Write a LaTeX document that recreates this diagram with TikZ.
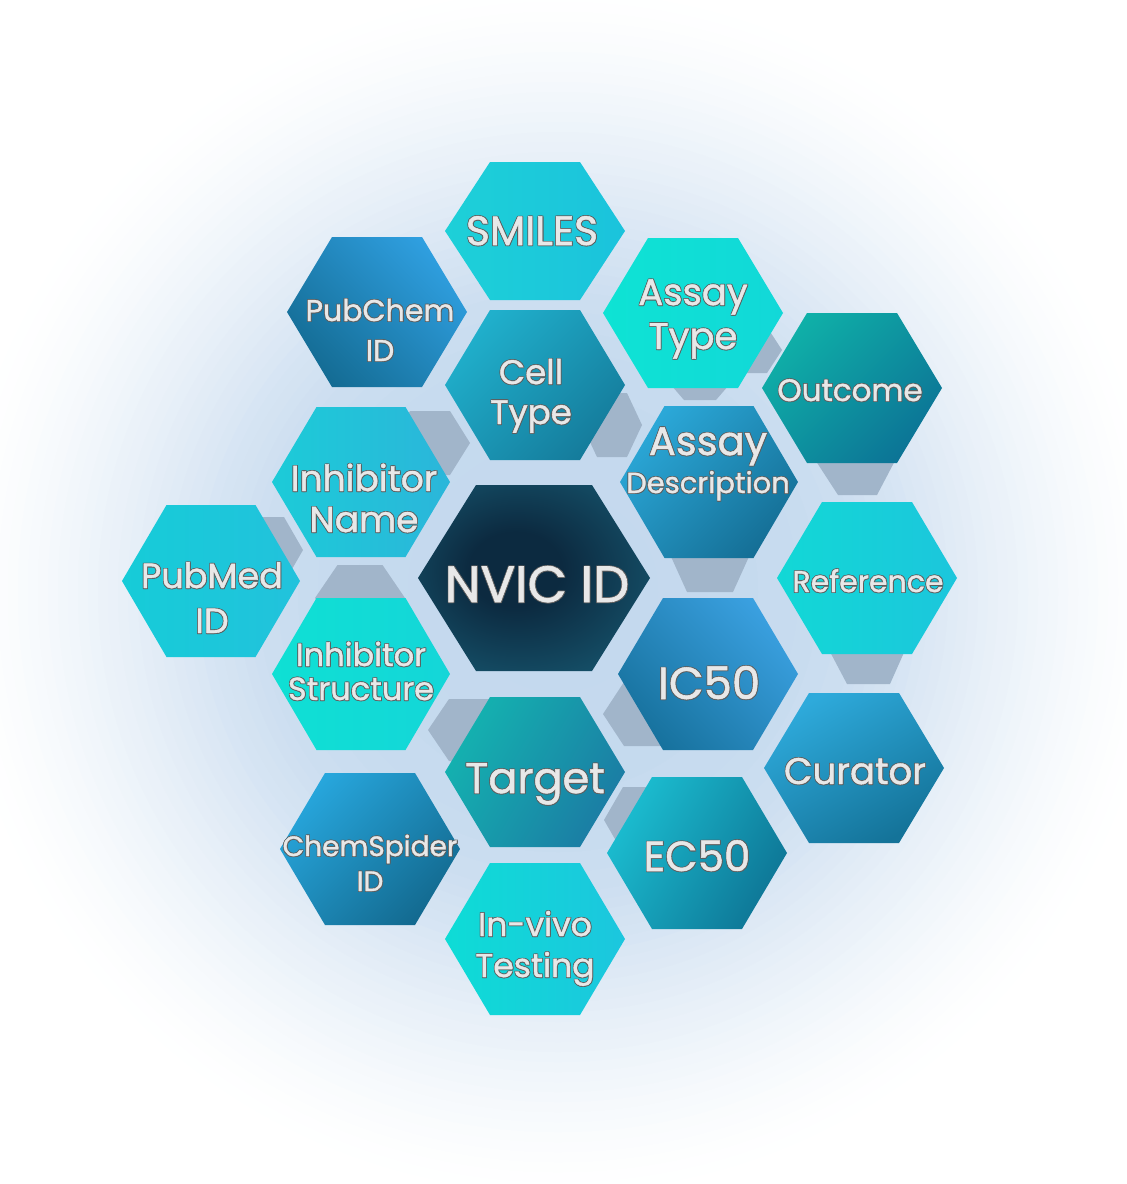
\documentclass[tikz,border=0pt]{standalone}
\usepackage{fontspec}
\setmainfont{Poppins}[FakeBold=1.2]
\definecolor{glowbase}{HTML}{B0CCE8}
\definecolor{shadowgray}{HTML}{A1B5CA}
\definecolor{lbl}{HTML}{E8E8E8}
\definecolor{lblout}{HTML}{5E5E5E}
\definecolor{nvicin}{HTML}{0C2A40}
\definecolor{nvicout}{HTML}{1B6A84}
\definecolor{smilesa}{HTML}{1DD0D8}
\definecolor{smilesb}{HTML}{1BC3DC}
\pgfdeclareradialshading{nvicsh}{\pgfpoint{-5bp}{3bp}}{color(0bp)=(nvicin); color(10bp)=(nvicin); color(45bp)=(nvicout); color(50bp)=(nvicout)}
\newcommand\hexpath[5]{\path[#5] ({#1-#3},{#2}) -- ({#1-#3/2},{#2-#4}) -- ({#1+#3/2},{#2-#4}) -- ({#1+#3},{#2}) -- ({#1+#3/2},{#2+#4}) -- ({#1-#3/2},{#2+#4}) -- cycle;}
\newcommand\otext[1]{{\leavevmode\rlap{\color{lblout}\hspace*{0.8pt}\raisebox{-0.8pt}{#1}}\rlap{\color{lblout}\hspace*{-0.6pt}\raisebox{0.6pt}{#1}}\rlap{\color{lblout}\hspace*{0.8pt}\raisebox{0.6pt}{#1}}\rlap{\color{lblout}\hspace*{-0.6pt}\raisebox{-0.8pt}{#1}}\color{lbl}#1}}
\newcommand\twol[2]{\begin{tabular}[t]{@{}c@{}}\otext{#1}\\\otext{#2}\end{tabular}}
\newcommand\fs[2]{\fontsize{#1}{#2}\selectfont}
\tikzset{
  lbl/.style={inner sep=0pt, anchor=base},
  shad/.style={fill=shadowgray}
}
\begin{document}
\begin{tikzpicture}[x=1pt,y=-1pt]
\useasboundingbox (0,0) rectangle (1127,1184);
\fill[white] (0,0) rectangle (1127,1184);
\foreach \r/\p in {600/0.5,590/1.5,580/2.5,570/3.8,560/5,550/6.7,540/8.5,530/10.3,520/12,510/14,500/16,490/18,480/20,470/22.4,460/24.8,450/27.2,440/29.6,430/32,420/34.6,410/37.2,400/39.8,390/42.4,380/45,370/47.5,360/50,350/52.5,340/55,330/57.5,320/60,310/62.5,300/65,280/67,260/69,240/71,200/73,150/74,100/75}
  {\fill[glowbase!\p!white] (558,592) circle[radius={\r pt}];}
% shadow shapes
\hexpath{430}{443}{40}{32}{shad}
\hexpath{265}{550}{38}{33}{shad}
\hexpath{360}{598}{45}{33}{shad}
\hexpath{612}{425}{30}{32}{shad}
\hexpath{752}{350}{30}{23}{shad}
\path[shad] (665,378) -- (735,378) -- (716,400) -- (684,400) -- cycle;
\path[shad] (668,550) -- (752,550) -- (733,592) -- (687,592) -- cycle;
\path[shad] (812,455) -- (898,455) -- (877,495) -- (838,495) -- cycle;
\path[shad] (828,648) -- (906,648) -- (890,684) -- (847,684) -- cycle;
\hexpath{645}{714}{42}{32}{shad}
\hexpath{470}{730}{42}{31}{shad}
\hexpath{642}{820}{38}{33}{shad}
% hexagons
\hexpath{535}{231}{90}{69}{top color=smilesa, bottom color=smilesb, shading angle=90}
\hexpath{377}{312}{90}{75}{top color={rgb,255:red,47;green,159;blue,224}, bottom color={rgb,255:red,20;green,108;blue,148}, shading angle=-45}
\hexpath{693}{313}{90}{75}{top color={rgb,255:red,14;green,227;blue,212}, bottom color={rgb,255:red,18;green,216;blue,216}, shading angle=90}
\hexpath{535}{385}{90}{75}{top color={rgb,255:red,32;green,176;blue,204}, bottom color={rgb,255:red,21;green,124;blue,156}, shading angle=45}
\hexpath{852}{388}{90}{75}{top color={rgb,255:red,15;green,176;blue,168}, bottom color={rgb,255:red,12;green,116;blue,150}, shading angle=45}
\hexpath{709}{482}{89}{76}{top color={rgb,255:red,43;green,168;blue,216}, bottom color={rgb,255:red,21;green,111;blue,150}, shading angle=45}
\hexpath{361}{482}{89}{75}{top color={rgb,255:red,28;green,203;blue,216}, bottom color={rgb,255:red,43;green,182;blue,218}, shading angle=90}
\hexpath{211}{581}{89}{76}{top color={rgb,255:red,22;green,204;blue,216}, bottom color={rgb,255:red,34;green,194;blue,220}, shading angle=90}
\hexpath{534}{578}{116}{93}{shading=nvicsh}
\hexpath{867}{578}{90}{76}{top color={rgb,255:red,18;green,216;blue,214}, bottom color={rgb,255:red,28;green,198;blue,220}, shading angle=90}
\hexpath{361}{674}{89}{76}{top color={rgb,255:red,15;green,224;blue,212}, bottom color={rgb,255:red,20;green,214;blue,216}, shading angle=90}
\hexpath{708}{674}{90}{76}{top color={rgb,255:red,58;green,160;blue,224}, bottom color={rgb,255:red,23;green,114;blue,158}, shading angle=-45}
\hexpath{854}{768}{90}{75}{top color={rgb,255:red,46;green,170;blue,219}, bottom color={rgb,255:red,20;green,115;blue,153}, shading angle=30}
\hexpath{535}{772}{90}{75}{top color={rgb,255:red,20;green,178;blue,176}, bottom color={rgb,255:red,27;green,124;blue,164}, shading angle=60}
\hexpath{697}{853}{90}{76}{top color={rgb,255:red,27;green,189;blue,208}, bottom color={rgb,255:red,14;green,118;blue,150}, shading angle=60}
\hexpath{370}{849}{90}{76}{top color={rgb,255:red,39;green,166;blue,220}, bottom color={rgb,255:red,19;green,106;blue,144}, shading angle=45}
\hexpath{535}{939}{90}{76}{top color={rgb,255:red,14;green,220;blue,214}, bottom color={rgb,255:red,28;green,198;blue,222}, shading angle=90}
% labels
\node[lbl, font=\fs{41}{44}] (smiles) at (532,245) {\otext{SMILES}};
\node[lbl, font=\fs{30}{40}] (pubchem) at (380,321) {\twol{PubChem}{ID}};
\node[lbl, font=\fs{37}{44}] (assaytype) at (693,305) {\twol{Assay}{Type}};
\node[lbl, font=\fs{34}{40}] (celltype) at (531,384) {\twol{Cell}{Type}};
\node[lbl, font=\fs{31}{40}] (outcome) at (850,401) {\otext{Outcome}};
\node[lbl, font=\fs{40}{38}] (assaydesc) at (708,455) {\begin{tabular}[t]{@{}c@{}}\otext{Assay}\\{\fs{29}{38}\otext{Description}}\end{tabular}};
\node[lbl, font=\fs{36}{41}] (inhname) at (364,491) {\twol{Inhibitor}{Name}};
\node[lbl, font=\fs{35}{45}] (pubmed) at (212,588) {\twol{PubMed}{ID}};
\node[lbl, font=\fs{51}{50}] (nvic) at (537,602) {\otext{NVIC ID}};
\node[lbl, font=\fs{30}{36}] (reference) at (868,592) {\otext{Reference}};
\node[lbl, font=\fs{32}{34}] (inhstruct) at (361,666) {\twol{Inhibitor}{Structure}};
\node[lbl, font=\fs{45}{50}] (ic50) at (709,699) {\otext{IC50}};
\node[lbl, font=\fs{37}{44}] (curator) at (855,784) {\otext{Curator}};
\node[lbl, font=\fs{43}{46}] (target) at (535,793) {\otext{Target}};
\node[lbl, font=\fs{42}{50}] (ec50) at (697,871) {\otext{EC50}};
\node[lbl, font=\fs{28}{35}] (chemspider) at (370,856) {\twol{ChemSpider}{ID}};
\node[lbl, font=\fs{33}{41}] (invivo) at (535,936) {\twol{In-vivo}{Testing}};
\end{tikzpicture}
\end{document}
